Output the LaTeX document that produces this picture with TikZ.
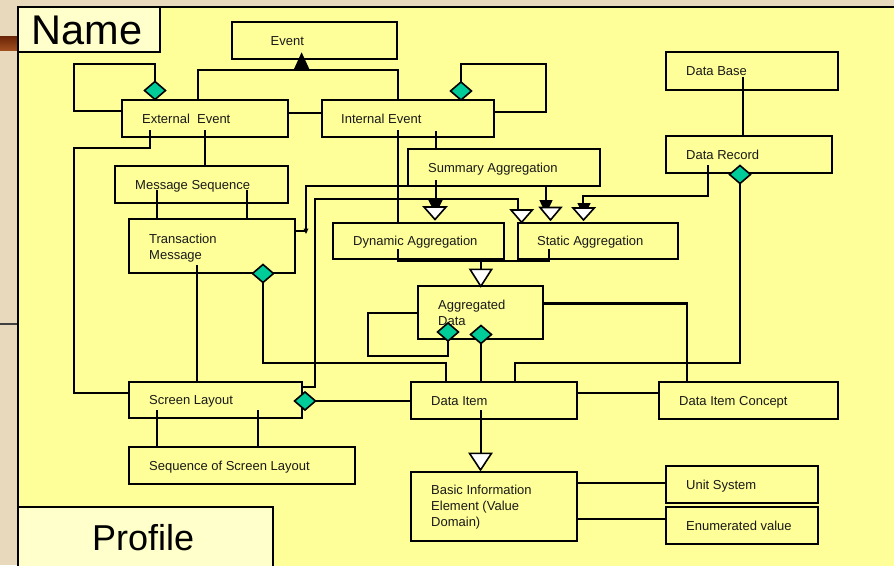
\documentclass[tikz,border=0pt]{standalone}
\usepackage{fontspec}
\setmainfont{Liberation Sans}
\usetikzlibrary{calc,shapes.geometric}
\definecolor{panel}{HTML}{FFFF99}
\definecolor{tabfill}{HTML}{FFFFCC}
\definecolor{aggteal}{RGB}{0,204,153}
\definecolor{marble}{HTML}{E8D9BC}
\definecolor{barTop}{HTML}{6A2408}
\definecolor{barBot}{HTML}{A04E1E}

\begin{document}
\begin{tikzpicture}[x=1pt,y=-1pt,
  box/.style={draw=black, fill=panel, line width=2.1pt, rectangle,
              inner sep=0pt, outer sep=0pt, anchor=north west},
  lbl/.style={anchor=base west, inner sep=0pt, align=left,
              font=\fontsize{13}{16}\selectfont, text=black!90},
  conn/.style={draw=black, line width=2.1pt, line join=miter},
  agg/.style={diamond, draw=black, fill=aggteal, line width=1.6pt,
              inner sep=0pt, outer sep=0pt, minimum width=21pt, minimum height=18pt},
  gen/.style={draw=black, fill=white, line width=1.6pt, line join=miter},
]
\useasboundingbox (0,0) rectangle (894,565);
\clip (0,0) rectangle (894,565);

% slide background and panel
\fill[marble] (0,0) rectangle (894,565);
\shade[top color=barTop, bottom color=barBot] (0,36) rectangle (18,50);
\draw[line width=1.2pt, black!75] (0,324) -- (18,324);
\draw[line width=2.1pt, fill=panel] (18,7) rectangle (900,572);

% title tabs
\node[box, fill=tabfill, minimum width=142pt, minimum height=45pt] (nametab) at (18,7) {};
\node[anchor=base west, inner sep=0pt, font=\fontsize{41.5}{45}\selectfont] (nametxt) at (31.5,44.3) {Name};
\node[box, fill=tabfill, minimum width=255pt, minimum height=62pt] (proftab) at (18,507) {};
\node[anchor=base west, inner sep=0pt, font=\fontsize{36}{40}\selectfont] (proftxt) at (92,550.7) {Profile};

% classes
\node[box, minimum width=165pt, minimum height=37pt] (ev)  at (232,22)  {};
\node[box, minimum width=166pt, minimum height=37pt] (ee)  at (122,100) {};
\node[box, minimum width=172pt, minimum height=37pt] (ie)  at (322,100) {};
\node[box, minimum width=172pt, minimum height=38pt] (db)  at (666,52)  {};
\node[box, minimum width=166pt, minimum height=37pt] (dr)  at (666,136) {};
\node[box, minimum width=173pt, minimum height=37pt] (ms)  at (115,166) {};
\node[box, minimum width=166pt, minimum height=54pt] (tm)  at (129,219) {};
\node[box, minimum width=192pt, minimum height=37pt] (sa)  at (408,149) {};
\node[box, minimum width=171pt, minimum height=36pt] (da)  at (333,223) {};
\node[box, minimum width=160pt, minimum height=36pt] (st)  at (518,223) {};
\node[box, minimum width=125pt, minimum height=53pt] (ag)  at (418,286) {};
\node[box, minimum width=173pt, minimum height=36pt] (sl)  at (129,382) {};
\node[box, minimum width=226pt, minimum height=37pt] (ssl) at (129,447) {};
\node[box, minimum width=166pt, minimum height=37pt] (di)  at (411,382) {};
\node[box, minimum width=179pt, minimum height=37pt] (dic) at (659,382) {};
\node[box, minimum width=166pt, minimum height=69pt] (bie) at (411,472) {};
\node[box, minimum width=152pt, minimum height=37pt] (us)  at (666,466) {};
\node[box, minimum width=152pt, minimum height=37pt] (en)  at (666,507) {};

% class names (multi-line names sit on the baseline of their last line)
\node[lbl] (evT)  at (270.5,45.2)  {Event};
\node[lbl] (eeT)  at (142,123.2)   {External\ \ Event};
\node[lbl] (ieT)  at (341,123.2)   {Internal Event};
\node[lbl] (dbT)  at (686,75.7)    {Data Base};
\node[lbl] (drT)  at (686,159.2)   {Data Record};
\node[lbl] (msT)  at (135,189.2)   {Message Sequence};
\node[lbl] (tmT)  at (149,259.3)   {Transaction\\Message};
\node[lbl] (saT)  at (428,172.2)   {Summary Aggregation};
\node[lbl] (daT)  at (353,245.7)   {Dynamic Aggregation};
\node[lbl] (stT)  at (537,245.7)   {Static Aggregation};
\node[lbl] (agT)  at (438,325.7)   {Aggregated\\Data};
\node[lbl] (slT)  at (149,404.7)   {Screen Layout};
\node[lbl] (sslT) at (149,470.2)   {Sequence of Screen Layout};
\node[lbl] (diT)  at (431,405.2)   {Data Item};
\node[lbl] (dicT) at (679,405.2)   {Data Item Concept};
\node[lbl] (bieT) at (431,526.7)   {Basic Information\\Element (Value\\Domain)};
\node[lbl] (usT)  at (686,489.2)   {Unit System};
\node[lbl] (enT)  at (686,530.2)   {Enumerated value};

% aggregation diamonds
\node[agg] (d1) at (155,90.5)  {};
\node[agg] (d2) at (461,91)    {};
\node[agg] (d3) at (263,273.5) {};
\node[agg] (d4) at (740,174.5) {};
\node[agg] (d5) at (448,332)   {};
\node[agg] (d6) at (481,334.5) {};
\node[agg] (d7) at (305,401)   {};

% Event specialisation tree
\draw[conn] (ee.north -| 197.7,0) -- (197.7,70) -- (397.7,70) -- (ie.north -| 397.7,0);
\fill[black] (294,69) -- (309.3,69) -- (301.6,52.3) -- cycle;

% self associations
\draw[conn] (d1.north) -- (d1.north |- 0,64) -- (74,64) -- (74,111) -- (ee.west |- 0,111);
\draw[conn] (d2.north) -- (d2.north |- 0,64) -- (546,64) -- (546,112) -- (ie.east |- 0,112);
\draw[conn] (d5.south) -- (d5.south |- 0,356) -- (368,356) -- (368,313) -- (ag.west |- 0,313);

% event links
\draw[conn] (ee.east |- 0,113) -- (ie.west |- 0,113);
\draw[conn] ($(ie.south -| 436,0)+(0,-6)$) -- (sa.north -| 436,0);
\draw[conn] ($(ie.south -| 397.7,0)+(0,-7)$) -- (da.north -| 397.7,0);
\draw[conn] ($(ee.south -| 205,0)+(0,-7)$) -- (ms.north -| 205,0);
\draw[conn] ($(ee.south -| 150,0)+(0,-7)$) -- (150,148) -- (74,148) -- (74,393) -- (sl.west |- 0,393);

% message and screen links
\draw[conn] ($(ms.south -| 156.7,0)+(0,-13)$) -- (tm.north -| 156.7,0);
\draw[conn] ($(ms.south -| 246.7,0)+(0,-13)$) -- (tm.north -| 246.7,0);
\draw[conn] ($(tm.south -| 196.7,0)+(0,-8)$) -- (sl.north -| 196.7,0);
\draw[conn] ($(sl.south -| 157.3,0)+(0,-8)$) -- (ssl.north -| 157.3,0);
\draw[conn] ($(sl.south -| 258.3,0)+(0,-8)$) -- (ssl.north -| 258.3,0);
\draw[conn] (d3.south) -- (d3.south |- 0,363) -- (446,363) -- (di.north -| 446,0);
\draw[conn] (d7.east) -- (di.west |- d7.east);

% links into the aggregation classes
\draw[conn] (tm.east |- 0,231) -- (306,231);
\draw[conn] (306,229) -- (306,186) -- (546,186) -- (546,200);
\fill[black] (303.5,228.5) -- (308.5,228.5) -- (306,234) -- cycle;
\draw[conn] (sl.east |- 0,387) -- (315,387) -- (315,199) -- (518,199) -- (518,211);
\draw[conn] ($(sa.south -| 435.7,0)+(0,-6)$) -- (435.7,201);
\draw[conn] ($(dr.south -| 708,0)+(0,-8)$) -- (708,196) -- (583.3,196) -- (583.3,203);
\draw[conn] ($(db.south -| 742.7,0)+(0,-13)$) -- (dr.north -| 742.7,0);

% specialisation heads over Dynamic / Static Aggregation
\fill[black] (428.3,200) -- (442.7,200) -- (435.5,214) -- cycle;
\draw[gen]   (424,207) -- (446,207) -- (435,219.5) -- cycle;
\fill[black] (539.3,200) -- (552.7,200) -- (546,214) -- cycle;
\draw[gen]   (540,207.5) -- (561,207.5) -- (550.5,220) -- cycle;
\fill[black] (577.3,203) -- (590.7,203) -- (584,216) -- cycle;
\draw[gen]   (573,208) -- (594.3,208) -- (583.5,220) -- cycle;
\draw[gen]   (511,210) -- (532.3,210) -- (521.6,222.3) -- cycle;

% Aggregated Data specialisation
\draw[conn] ($(da.south -| 397.7,0)+(0,-10)$) -- (397.7,261) -- (549.3,261) -- ($(st.south -| 549.3,0)+(0,-10)$);
\draw[conn] (481,261) -- (481,270);
\draw[gen]  (470,269.3) -- (491.7,269.3) -- (480.8,286.3) -- cycle;

% data item links
\draw[conn] (d6.south) -- (di.north -| d6.south);
\draw[conn] (ag.east |- 0,303.5) -- (686.7,303.5) -- (dic.north -| 686.7,0);
\draw[conn] (d4.south) -- (d4.south |- 0,363.3) -- (515,363.3) -- (di.north -| 515,0);
\draw[conn] (di.east |- 0,392.7) -- (dic.west |- 0,392.7);
\draw[conn] ($(di.south -| 480.7,0)+(0,-9)$) -- (480.7,454);
\draw[gen]  (469.5,453.3) -- (491.5,453.3) -- (480.5,470) -- cycle;
\draw[conn] (bie.east |- 0,483.3) -- (us.west |- 0,483.3);
\draw[conn] (bie.east |- 0,519.3) -- (en.west |- 0,519.3);

\end{tikzpicture}
\end{document}
